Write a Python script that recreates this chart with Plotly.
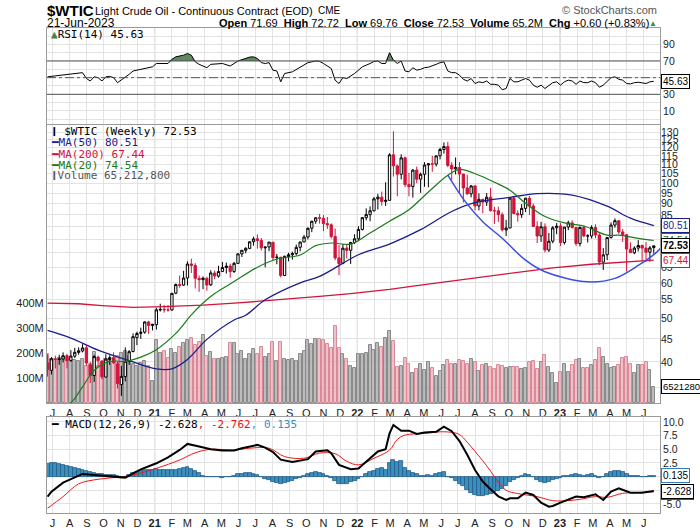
import math
import pandas as pd
import plotly.graph_objects as go
from plotly.subplots import make_subplots

# weekly bars, dated on the Monday of each week
first_week = "2020-06-22"

opens = [39.8, 38.3, 40.6, 40.5, 40.6, 41.3, 40.3, 41.2, 42.0, 42.3,
         43.0, 39.4, 37.3, 41.0, 40.2, 37.0, 40.5, 40.9, 39.6, 35.6,
         37.1, 40.1, 42.2, 45.3, 46.3, 46.6, 49.1, 48.2, 48.4, 52.2,
         52.4, 52.2, 52.2, 56.9, 59.5, 59.3, 61.5, 66.1, 65.6, 61.4,
         61.0, 61.4, 59.4, 63.1, 62.1, 63.6, 64.9, 65.4, 63.6, 66.3,
         69.6, 70.9, 71.6, 74.1, 75.2, 74.6, 71.8, 72.1, 73.9, 68.3,
         68.4, 62.3, 68.7, 69.3, 69.7, 72.0, 74.0, 75.9, 79.4, 82.3,
         83.8, 83.6, 81.3, 80.8, 76.1, 68.2, 66.3, 71.7, 70.9, 73.8,
         75.2, 78.9, 83.8, 85.1, 86.8, 92.3, 93.1, 91.1, 91.6, 115.7,
         109.3, 104.7, 113.9, 99.3, 98.3, 107.0, 102.1, 104.7, 109.8, 110.5,
         110.3, 115.1, 118.9, 120.7, 109.6, 107.6, 108.4, 104.8, 97.6, 94.7,
         98.6, 89.0, 92.1, 90.8, 93.1, 86.9, 86.8, 85.1, 78.7, 79.5,
         92.6, 85.6, 85.1, 87.9, 92.6, 89.0, 80.1, 76.3, 80.0, 71.0,
         74.3, 79.6, 80.3, 73.8, 79.9, 81.6, 79.7, 73.4, 79.7, 76.3,
         76.3, 79.7, 76.7, 66.7, 69.3, 75.7, 80.7, 82.5, 77.9, 76.8,
         71.3, 70.0, 71.7, 72.7, 71.7, 70.2, 71.9]

highs = [41.6, 41.0, 41.3, 41.5, 42.0, 41.7, 42.5, 43.0, 43.1, 43.8,
         43.5, 40.0, 41.5, 41.3, 40.3, 41.6, 41.4, 42.0, 40.0, 39.2,
         43.1, 42.5, 46.3, 46.7, 47.7, 49.3, 49.4, 48.6, 52.8, 53.9,
         53.6, 53.5, 57.0, 59.8, 62.3, 63.8, 67.0, 67.9, 66.4, 62.3,
         62.0, 61.9, 64.0, 63.9, 65.5, 66.8, 66.6, 66.2, 66.8, 69.8,
         71.0, 72.0, 74.2, 76.0, 76.9, 75.5, 72.3, 74.0, 74.0, 69.6,
         68.6, 69.0, 70.0, 70.4, 73.0, 74.1, 76.7, 79.8, 82.5, 84.0,
         85.4, 84.9, 84.1, 81.4, 79.3, 72.8, 73.3, 72.9, 74.0, 77.0,
         80.2, 84.0, 87.9, 88.8, 93.2, 94.7, 95.8, 100.5, 116.6, 130.5,
         110.0, 116.0, 114.7, 105.5, 107.5, 108.9, 105.6, 111.4, 110.7, 115.0,
         115.4, 120.0, 123.3, 123.7, 111.4, 114.1, 111.5, 105.0, 104.4, 99.1,
         99.0, 94.9, 92.1, 95.1, 97.7, 88.6, 88.7, 86.1, 82.9, 92.9,
         93.6, 87.0, 89.9, 92.8, 93.7, 90.1, 82.3, 82.0, 81.4, 77.5,
         80.3, 81.5, 81.5, 80.0, 82.5, 82.7, 79.9, 80.1, 80.6, 77.0,
         80.6, 81.0, 77.4, 71.7, 75.7, 81.8, 83.5, 82.8, 79.1, 76.9,
         73.9, 72.4, 74.7, 73.0, 74.0, 72.5, 72.7]

lows = [37.1, 37.5, 38.7, 39.4, 39.9, 38.7, 40.0, 40.8, 41.5, 42.0,
        39.2, 35.9, 36.1, 39.0, 36.6, 37.0, 39.4, 39.6, 34.9, 33.6,
        36.2, 39.4, 42.0, 43.6, 45.0, 46.2, 46.2, 47.0, 47.2, 51.8,
        51.5, 51.8, 52.0, 56.6, 58.5, 59.1, 59.2, 63.1, 58.3, 57.3,
        58.1, 57.6, 59.0, 61.1, 61.6, 63.4, 62.9, 61.6, 63.1, 66.1,
        68.5, 69.8, 71.3, 72.6, 71.5, 70.8, 65.0, 70.6, 67.3, 66.0,
        61.7, 62.1, 67.0, 67.6, 69.0, 70.5, 73.9, 75.0, 77.8, 81.2,
        81.3, 78.2, 79.1, 75.3, 67.4, 62.4, 66.0, 68.0, 66.1, 73.2,
        74.3, 78.5, 82.7, 82.3, 86.6, 87.4, 89.1, 89.0, 91.5, 103.5,
        93.5, 102.0, 98.0, 93.5, 92.9, 100.0, 95.2, 98.2, 97.9, 106.0,
        108.9, 113.0, 116.4, 108.6, 101.5, 104.6, 95.1, 90.6, 94.3, 93.0,
        87.0, 87.0, 85.7, 89.0, 86.5, 81.2, 82.0, 78.1, 76.3, 79.4,
        85.3, 82.1, 83.7, 86.3, 85.0, 79.9, 73.6, 74.0, 70.1, 70.3,
        73.5, 77.0, 72.5, 73.0, 78.6, 79.3, 72.5, 72.3, 75.8, 73.8,
        75.3, 75.4, 65.7, 64.1, 67.4, 75.3, 79.6, 77.1, 74.0, 63.6,
        70.0, 69.5, 70.5, 67.0, 66.8, 66.9, 69.7]

closes = [38.49, 40.65, 40.55, 40.59, 41.29, 40.27, 41.22, 42.01, 42.34, 42.97,
          39.77, 37.33, 41.11, 40.25, 37.05, 40.60, 40.88, 39.85, 35.79, 37.14,
          40.13, 42.15, 45.53, 46.26, 46.57, 49.10, 48.23, 48.52, 52.24, 52.36,
          52.27, 52.20, 56.85, 59.47, 59.24, 61.50, 66.09, 65.61, 61.42, 60.97,
          61.45, 59.32, 63.13, 62.14, 63.58, 64.90, 65.37, 63.58, 66.32, 69.62,
          70.91, 71.64, 74.05, 75.16, 74.56, 71.81, 72.07, 73.95, 68.28, 68.44,
          62.32, 68.74, 69.29, 69.72, 71.97, 73.98, 75.88, 79.35, 82.28, 83.76,
          83.57, 81.27, 80.79, 76.10, 68.15, 66.26, 71.67, 70.86, 73.79, 75.21,
          78.90, 83.82, 85.14, 86.82, 92.31, 93.10, 91.07, 91.59, 115.68, 109.33,
          104.70, 113.90, 99.27, 98.26, 106.95, 102.07, 104.69, 109.77, 110.49, 110.28,
          115.07, 118.87, 120.67, 109.56, 107.62, 108.43, 104.79, 97.59, 94.70, 98.62,
          89.01, 92.09, 90.77, 93.06, 86.87, 86.79, 85.11, 78.74, 79.49, 92.64,
          85.61, 85.05, 87.90, 92.61, 88.96, 80.08, 76.28, 79.98, 71.02, 74.29,
          79.56, 80.26, 73.77, 79.86, 81.64, 79.68, 73.39, 79.72, 76.34, 76.32,
          79.68, 76.68, 66.74, 69.26, 75.67, 80.70, 82.52, 77.87, 76.78, 71.34,
          70.04, 71.69, 72.67, 71.74, 70.17, 71.78, 72.53]

# volume, millions of contracts
volume_m = [196, 175, 178, 181, 185, 170, 178, 172, 168, 176,
            150, 155, 205, 150, 160, 175, 178, 160, 190, 200,
            210, 190, 155, 150, 160, 170, 150, 88, 252, 200,
            210, 180, 215, 200, 225, 240, 252, 260, 232, 245,
            272, 190, 206, 175, 178, 180, 185, 240, 240, 198,
            210, 175, 195, 215, 195, 225, 185, 198, 245, 168,
            245, 175, 172, 175, 170, 198, 210, 252, 235, 255,
            255, 252, 236, 222, 310, 222, 196, 176, 150, 140,
            196, 196, 200, 232, 212, 240, 225, 260, 288, 248,
            144, 148, 180, 156, 121, 136, 156, 132, 164, 140,
            108, 129, 152, 172, 156, 156, 172, 168, 156, 176,
            164, 128, 152, 156, 144, 137, 152, 150, 140, 145,
            144, 145, 136, 140, 165, 168, 136, 165, 192, 144,
            121, 80, 124, 156, 125, 152, 172, 175, 140, 140,
            152, 172, 220, 184, 156, 141, 144, 152, 180, 184,
            156, 120, 152, 152, 164, 132, 65.2]

# moving averages, read at selected weeks
ma20_wk = [0, 3, 6, 9, 12, 16, 20, 24, 28, 33, 37, 40, 43, 48, 54, 59, 65, 69, 73, 78,
           83, 88, 93, 98, 103, 106, 111, 115, 119, 123, 128, 133, 138, 144, 147, 152, 156]
ma20 = [32.5, 31.1, 32.4, 35.2, 38.3, 40.1, 40.1, 41.0, 42.6, 46.3, 50.9, 54.1, 56.8, 60.4,
        65.0, 67.8, 69.2, 72.6, 73.6, 73.2, 77.5, 82.3, 87.3, 95.6, 104.2, 107.4, 104.2,
        100.5, 96.5, 90.2, 84.3, 81.6, 80.3, 76.6, 76.6, 75.4, 74.54]

ma50_wk = [0, 6, 13, 22, 28, 32, 36, 41, 48, 51, 56, 65, 70, 80, 88, 96, 104, 110,
           119, 126, 135, 144, 150, 156]
ma50 = [47.0, 45.2, 42.5, 40.0, 38.6, 38.6, 40.5, 44.9, 49.6, 50.8, 55.0, 60.0, 62.0,
        69.3, 73.2, 78.8, 86.5, 90.5, 93.0, 94.8, 94.1, 88.9, 83.6, 80.51]

ma200_wk = [0, 8, 14, 22, 30, 40, 50, 60, 70, 78, 88, 96, 104, 112, 120, 130, 140, 148, 156]
ma200 = [54.1, 53.9, 53.4, 52.9, 53.1, 53.5, 54.2, 55.0, 56.0, 56.8, 58.0, 59.3, 60.5,
         61.8, 63.2, 64.8, 66.0, 66.8, 67.44]

# hand-drawn rounding-bottom arc
arc_wk = [103, 107.5, 112, 117, 123, 128, 139, 146, 152, 156.4, 159]
arc = [104.3, 91.0, 82.1, 75.4, 67.4, 63.5, 60.3, 61.4, 65.6, 69.8, 73.7]

rsi_wk = [0, 2, 4, 6, 9, 10, 11, 12, 13, 14, 15, 16, 17, 18, 19, 20, 21, 22, 24, 26,
          27, 28, 31, 32, 33, 35, 36, 37, 38, 39, 41, 42, 45, 47, 49, 52, 53, 54, 55, 56,
          57, 58, 59, 60, 61, 63, 65, 67, 69, 70, 71, 73, 74, 75, 76, 77, 79, 81, 83, 84,
          85, 86, 87, 88, 89, 90, 91, 92, 93, 94, 95, 96, 97, 98, 100, 101, 102, 103, 104, 105,
          106, 107, 108, 109, 110, 111, 112, 113, 114, 115, 116, 117, 118, 119, 120, 121, 122, 123, 124, 125,
          126, 127, 128, 129, 130, 131, 132, 133, 134, 135, 136, 137, 138, 139, 140, 141, 142, 143, 144, 145,
          146, 147, 148, 149, 150, 151, 152, 153, 154, 155, 156]
rsi = [51, 52, 53.5, 54, 56, 49, 46, 51, 50, 46, 51, 51.5, 50, 44, 47, 51, 54, 58, 60, 62,
       63, 67, 67, 72, 75, 77, 79, 77, 69, 66, 62, 66, 67, 64, 70, 74.7, 75, 73, 68, 67,
       68, 59, 58, 45, 55, 57, 62, 68, 70, 69.5, 67, 61, 47, 43, 50, 49, 55, 63, 67, 69.5,
       70, 67, 67, 80, 71, 67, 70, 58, 57, 62, 59, 60, 62, 62.5, 66, 68, 69, 58, 56, 56,
       53, 48, 46, 49, 43, 45, 44, 46, 42, 42, 41, 35.5, 37, 49, 45, 45, 47, 49, 47, 41,
       38.5, 41, 37, 40, 44, 45, 41, 45, 47, 46, 42, 46, 44, 44, 46, 44, 38.5, 41, 46, 50,
       51, 48, 47, 43, 42.5, 44, 44.5, 44, 43, 45, 45.63]

macd_wk = [0, 1, 4, 6, 9, 12, 15, 18, 20, 22, 24, 28, 31, 34, 36, 39, 42, 45, 48, 50,
           54, 56, 58, 60, 63, 67, 69, 72, 73, 75, 78, 80, 82, 85, 87, 88, 89, 91, 93, 95,
           97, 100, 102, 104, 106, 108, 110, 112, 114, 116, 118, 119, 121, 123, 125, 127, 129, 130, 132, 134,
           136, 138, 141, 143, 145, 147, 150, 153, 156]
macd = [-3.65, -2.74, -1.09, -0.48, 0.5, 0.3, 0.12, 0.0, -0.18, 0.6,
        1.34, 2.44, 3.54, 4.88, 5.98, 5.5, 5.0, 4.8, 4.8, 5.2,
        5.8, 5.3, 4.5, 3.1, 2.7, 3.2, 4.6, 4.8, 4.3, 2.15,
        1.34, 1.5, 2.8, 4.6, 5.0, 7.9, 9.45, 8.4, 8.4, 7.8,
        8.05, 8.2, 9.15, 8.3, 6.5, 4.0, 1.2, -0.9, -2.3, -3.6,
        -4.27, -3.96, -3.96, -2.93, -3.35, -4.76, -5.5, -5.36, -4.76, -4.15,
        -3.65, -3.78, -3.23, -4.27, -2.74, -2.13, -2.93, -2.93, -2.628]

signal_wk = [0, 4, 8, 13, 18, 22, 28, 34, 38, 42, 48, 52, 57, 61, 66, 70, 74, 77, 80, 84,
             88, 90, 92, 97, 101, 104, 106, 108, 110, 112, 114, 116, 118, 121, 126, 130, 134, 137, 141, 144,
             148, 151, 156]
signal = [-5.77, -3.65, -1.33, -0.48, -0.12, 0.3, 1.52, 3.04, 4.36, 5.0,
          4.85, 5.2, 5.2, 3.66, 3.36, 4.3, 4.2, 2.8, 2.15, 3.36,
          4.85, 6.8, 7.6, 7.9, 8.2, 8.1, 7.7, 6.3, 4.6, 2.9,
          1.0, -1.0, -2.5, -3.1, -3.66, -4.39, -4.39, -4.15, -3.65, -3.78,
          -3.05, -2.93, -2.762]

hist = [2.3, 2.4, 2.4, 2.3, 2.2, 2.0, 1.8, 1.6, 1.4, 1.2,
        1.0, 0.8, 0.6, 0.5, 0.4, 0.3, 0.3, 0.25, 0.1, -0.2,
        -0.1, 0.3, 0.6, 0.9, 1.1, 1.2, 1.3, 1.3, 1.4, 1.3,
        1.3, 1.2, 1.2, 1.3, 1.4, 1.5, 1.7, 1.4, 1.0, 0.6,
        0.2, 0.0, -0.1, -0.1, -0.1, -0.2, -0.1, 0.0, 0.2, 0.4,
        0.5, 0.6, 0.6, 0.5, 0.3, 0.0, -0.4, -0.7, -1.0, -1.2,
        -1.3, -1.2, -1.0, -0.8, -0.5, -0.2, 0.1, 0.4, 0.7, 0.8,
        0.7, 0.5, 0.2, -0.3, -0.8, -1.3, -1.4, -1.3, -1.0, -0.8,
        -0.4, 0.0, 0.4, 0.8, 1.1, 1.4, 1.5, 1.2, 2.5, 3.0,
        2.7, 2.8, 1.6, 1.0, 0.6, 0.4, 0.2, 0.2, 0.3, 0.2,
        0.5, 0.7, 0.9, 0.0, -0.3, -0.8, -1.3, -1.8, -2.4, -3.0,
        -3.4, -3.6, -3.6, -3.4, -3.2, -2.9, -2.6, -2.3, -1.8, -1.0,
        -0.6, -0.3, 0.1, 0.4, 0.3, -0.1, -0.7, -1.0, -1.2, -1.0,
        -0.7, -0.4, -0.2, 0.1, 0.2, 0.3, 0.4, 0.3, 0.2, 0.3,
        0.4, 0.2, -0.2, 0.0, 0.4, 0.8, 1.0, 1.0, 0.8, 0.4,
        0.2, 0.1, 0.05, 0.0, 0.0, 0.05, 0.135]

month_letters = "JFMAMJJASOND"

RED = "#d2143a"
NAVY = "#1c1c8a"
GREEN = "#1a7a1a"
BLUE_H = "#3d8fc0"
GRID = "#e3e3e3"
SANS = "Liberation Sans"
MONO = "DejaVu Sans Mono"
NARROW = "Liberation Sans Narrow, Liberation Sans"

dates = pd.date_range(first_week, periods=len(closes), freq="7D")
t0 = dates[0]


def at_weeks(idx):
    return [t0 + pd.Timedelta(days=7 * k) for k in idx]


prev = [opens[0]] + closes[:-1]
up = [c > p for c, p in zip(closes, prev)]
vol_fill = ["rgba(165,165,165,0.75)" if u else "rgba(232,160,170,0.65)" for u in up]
vol_line = ["#8a8a8a" if u else "#d98a98" for u in up]

fig = make_subplots(rows=3, cols=1, shared_xaxes=True, vertical_spacing=0.01,
                    specs=[[{}], [{"secondary_y": True}], [{}]])

# RSI panel
rsi_x = at_weeks(rsi_wk)
fig.add_trace(go.Scatter(x=rsi_x, y=[70] * len(rsi), mode="lines",
                         line=dict(width=0), hoverinfo="skip"), row=1, col=1)
fig.add_trace(go.Scatter(x=rsi_x, y=[max(v, 70) for v in rsi], mode="lines",
                         line=dict(width=0), fill="tonexty",
                         fillcolor="rgba(70,115,70,0.85)", hoverinfo="skip"), row=1, col=1)
fig.add_trace(go.Scatter(x=rsi_x, y=rsi, mode="lines",
                         line=dict(color="black", width=1)), row=1, col=1)

# volume (base axis, drawn behind the price)
fig.add_trace(go.Bar(x=dates, y=[v * 1e6 for v in volume_m],
                     marker=dict(color=vol_fill, line=dict(color=vol_line, width=1)),
                     width=5.4 * 86400000), row=2, col=1, secondary_y=False)

# price
fig.add_trace(go.Candlestick(x=dates, open=opens, high=highs, low=lows, close=closes,
                             increasing=dict(line=dict(color="black", width=1), fillcolor="white"),
                             decreasing=dict(line=dict(color=RED, width=1), fillcolor=RED),
                             whiskerwidth=0), row=2, col=1, secondary_y=True)
fig.add_trace(go.Scatter(x=at_weeks(ma200_wk), y=ma200, mode="lines",
                         line=dict(color=RED, width=1.3)), row=2, col=1, secondary_y=True)
fig.add_trace(go.Scatter(x=at_weeks(ma50_wk), y=ma50, mode="lines", line_shape="spline",
                         line=dict(color=NAVY, width=1.3)), row=2, col=1, secondary_y=True)
fig.add_trace(go.Scatter(x=at_weeks(ma20_wk), y=ma20, mode="lines", line_shape="spline",
                         line=dict(color=GREEN, width=1.2)), row=2, col=1, secondary_y=True)
fig.add_trace(go.Scatter(x=at_weeks(arc_wk), y=arc, mode="lines", line_shape="spline",
                         line=dict(color="#3a50e0", width=1.5)), row=2, col=1, secondary_y=True)

# MACD panel
fig.add_trace(go.Bar(x=dates, y=hist, width=7 * 86400000,
                     marker=dict(color=BLUE_H, line=dict(color="#1f5d86", width=0.8))),
              row=3, col=1)
fig.add_trace(go.Scatter(x=at_weeks(signal_wk), y=signal, mode="lines", line_shape="spline",
                         line=dict(color="#f01818", width=1)), row=3, col=1)
fig.add_trace(go.Scatter(x=at_weeks(macd_wk), y=macd, mode="lines",
                         line=dict(color="black", width=2)), row=3, col=1)

# axes
months = pd.date_range("2020-07-01", "2023-06-01", freq="MS")
tick_text = ["<b>%s</b>" % m.strftime("%y") if m.month == 1 else month_letters[m.month - 1]
             for m in months]
x_range = [t0 - pd.Timedelta(days=1), t0 + pd.Timedelta(days=7 * 157.6)]
frame = dict(showline=True, mirror=True, linecolor="#9a9a9a", linewidth=1)

for name in ["xaxis", "xaxis2", "xaxis3"]:
    fig.layout[name].update(domain=[0, 1], range=x_range, tickvals=months, ticktext=tick_text,
                            showgrid=True, gridcolor=GRID, ticks="", ticklen=0,
                            automargin=False,
                            tickfont=dict(family=SANS, size=11, color="#222"),
                            rangeslider=dict(visible=False), **frame)
fig.layout.xaxis.showticklabels = False
fig.layout.xaxis2.showticklabels = True
fig.layout.xaxis3.showticklabels = True

# price labels hidden under the value tags are left blank, as on the original
price_ticks = list(range(35, 131, 5))
price_text = ["" if v in (35, 70, 75, 80) else str(v) for v in price_ticks]

axis_font = dict(family=SANS, size=10.5, color="#222")
fig.update_layout(
    yaxis=dict(domain=[0.8021, 1.0], range=[-5.6, 109.6], side="right",
               tickvals=list(range(0, 101, 10)),
               ticktext=["", "10", "", "30", "", "", "", "70", "", "90", ""],
               gridcolor=GRID, ticks="", tickfont=axis_font, zeroline=False,
               automargin=False, **frame),
    yaxis2=dict(domain=[0.2268, 0.8000], range=[0, 1112e6], side="left",
                tickvals=[1e8, 2e8, 3e8, 4e8], ticktext=["100M", "200M", "300M", "400M"],
                showgrid=False, ticks="", tickfont=dict(family=SANS, size=11, color="#222"),
                zeroline=False, automargin=False, **frame),
    yaxis3=dict(type="log", range=[math.log10(32.4), math.log10(134.8)], side="right",
                tickvals=price_ticks, ticktext=price_text, showgrid=True, gridcolor=GRID,
                ticks="", tickfont=axis_font, zeroline=False, showline=False,
                automargin=False),
    yaxis4=dict(domain=[0, 0.1979], range=[-6.65, 10.9], side="right",
                tickvals=[-5, -2.5, 0, 2.5, 5, 7.5, 10],
                ticktext=["-5.0", "", "", "2.5", "5.0", "7.5", "10.0"],
                gridcolor=GRID, ticks="", tickfont=axis_font, zeroline=False,
                automargin=False, **frame),
)

# RSI reference lines
for lvl, dash in [(70, "solid"), (30, "solid"), (50, "dashdot")]:
    fig.add_shape(type="line", xref="x domain", yref="y", x0=0, x1=1, y0=lvl, y1=lvl,
                  line=dict(color="#555555", width=1, dash=dash))

# darker year gridlines
for m in months:
    if m.month == 1:
        for yr, xr in [("y domain", "x"), ("y2 domain", "x2"), ("y4 domain", "x3")]:
            fig.add_shape(type="line", xref=xr, yref=yr, x0=m, x1=m, y0=0, y1=1,
                          line=dict(color="#b4b4b4", width=1), layer="below")


def text(x, y, s, size=11, family=MONO, color="black", anchor="left"):
    fig.add_annotation(xref="paper", yref="paper", x=x, y=y, text=s, showarrow=False,
                       xanchor=anchor, yanchor="middle",
                       font=dict(family=family, size=size, color=color))


def tag(yref, y, s, color, border=None, size=10):
    fig.add_annotation(xref="paper", x=1.002, xanchor="left", yref=yref, y=y, text=s,
                       showarrow=False, yanchor="middle",
                       font=dict(family=SANS, size=size, color=color),
                       bordercolor=border or color, borderwidth=1, borderpad=1,
                       bgcolor="white")


# header
text(-0.004, 1.0371, "<b>$WTIC</b>", size=15, family=SANS)
text(0.0755, 1.0352, "Light Crude Oil - Continuous Contract (EOD)", size=11, family=NARROW)
text(0.439, 1.0352, "CME", size=10, family=SANS)
text(0.998, 1.0371, "\u00a9 StockCharts.com", size=11, family=SANS, color="#555",
     anchor="right")
text(-0.004, 1.0103, "21-Jun-2023", size=12, family=NARROW)
text(0.986, 1.0103,
     "<b>Open</b> 71.69  <b>High</b> 72.72  <b>Low</b> 69.76  <b>Close</b> 72.53  "
     "<b>Volume</b> 65.2M  <b>Chg</b> +0.60 (+0.83%)", size=11, family=NARROW,
     anchor="right")
text(0.998, 1.0103, "\u25b2", size=8, family=SANS, color="#2a9a2a", anchor="right")

# panel legends
text(0.003, 0.9876, "<span style='color:#4d7d4d'>\u25b2</span>RSI(14) 45.63", size=11)
text(0.003, 0.7856, "\u2759 $WTIC (Weekly) 72.53", size=11)
text(0.003, 0.7629, "\u2501MA(50) 80.51", size=11, color=NAVY)
text(0.003, 0.7402, "\u2501MA(200) 67.44", size=11, color=RED)
text(0.003, 0.7175, "\u2501MA(20) 74.54", size=11, color=GREEN)
text(0.003, 0.6969, "\u2759Volume 65,212,800", size=11, color="#555")
text(0.003, 0.1835, "\u2501 MACD(12,26,9) -2.628<span style='color:#e81010'>, -2.762</span>"
     "<span style='color:#3d8fc0'>, 0.135</span>", size=11)

# right-hand value tags
tag("y", 45.63, "45.63", "black")
tag("y3", math.log10(80.51), "80.51", NAVY)
tag("y3", math.log10(74.54), "74.54", GREEN)
tag("y3", math.log10(72.53), "<b>72.53</b>", "black")
tag("y3", math.log10(67.44), "67.44", RED)
tag("y2", 65.2e6, "6521280", "black", size=9.5)
tag("y4", 0.135, "0.135", "black", border="#2f7fb5")
tag("y4", -2.9, "-2.762", RED)
tag("y4", -2.628, "-2.628", "black")

fig.update_layout(width=700, height=530, margin=dict(l=47, r=40, t=28, b=17),
                  paper_bgcolor="white", plot_bgcolor="white", showlegend=False,
                  bargap=0, boxgap=0.15, hovermode=False)

# drop the browser's default 8px body margin so the chart sits at the window corner
fig.write_html("out.html", config={"displayModeBar": False},
               post_script="document.body.style.margin = '0px';")
